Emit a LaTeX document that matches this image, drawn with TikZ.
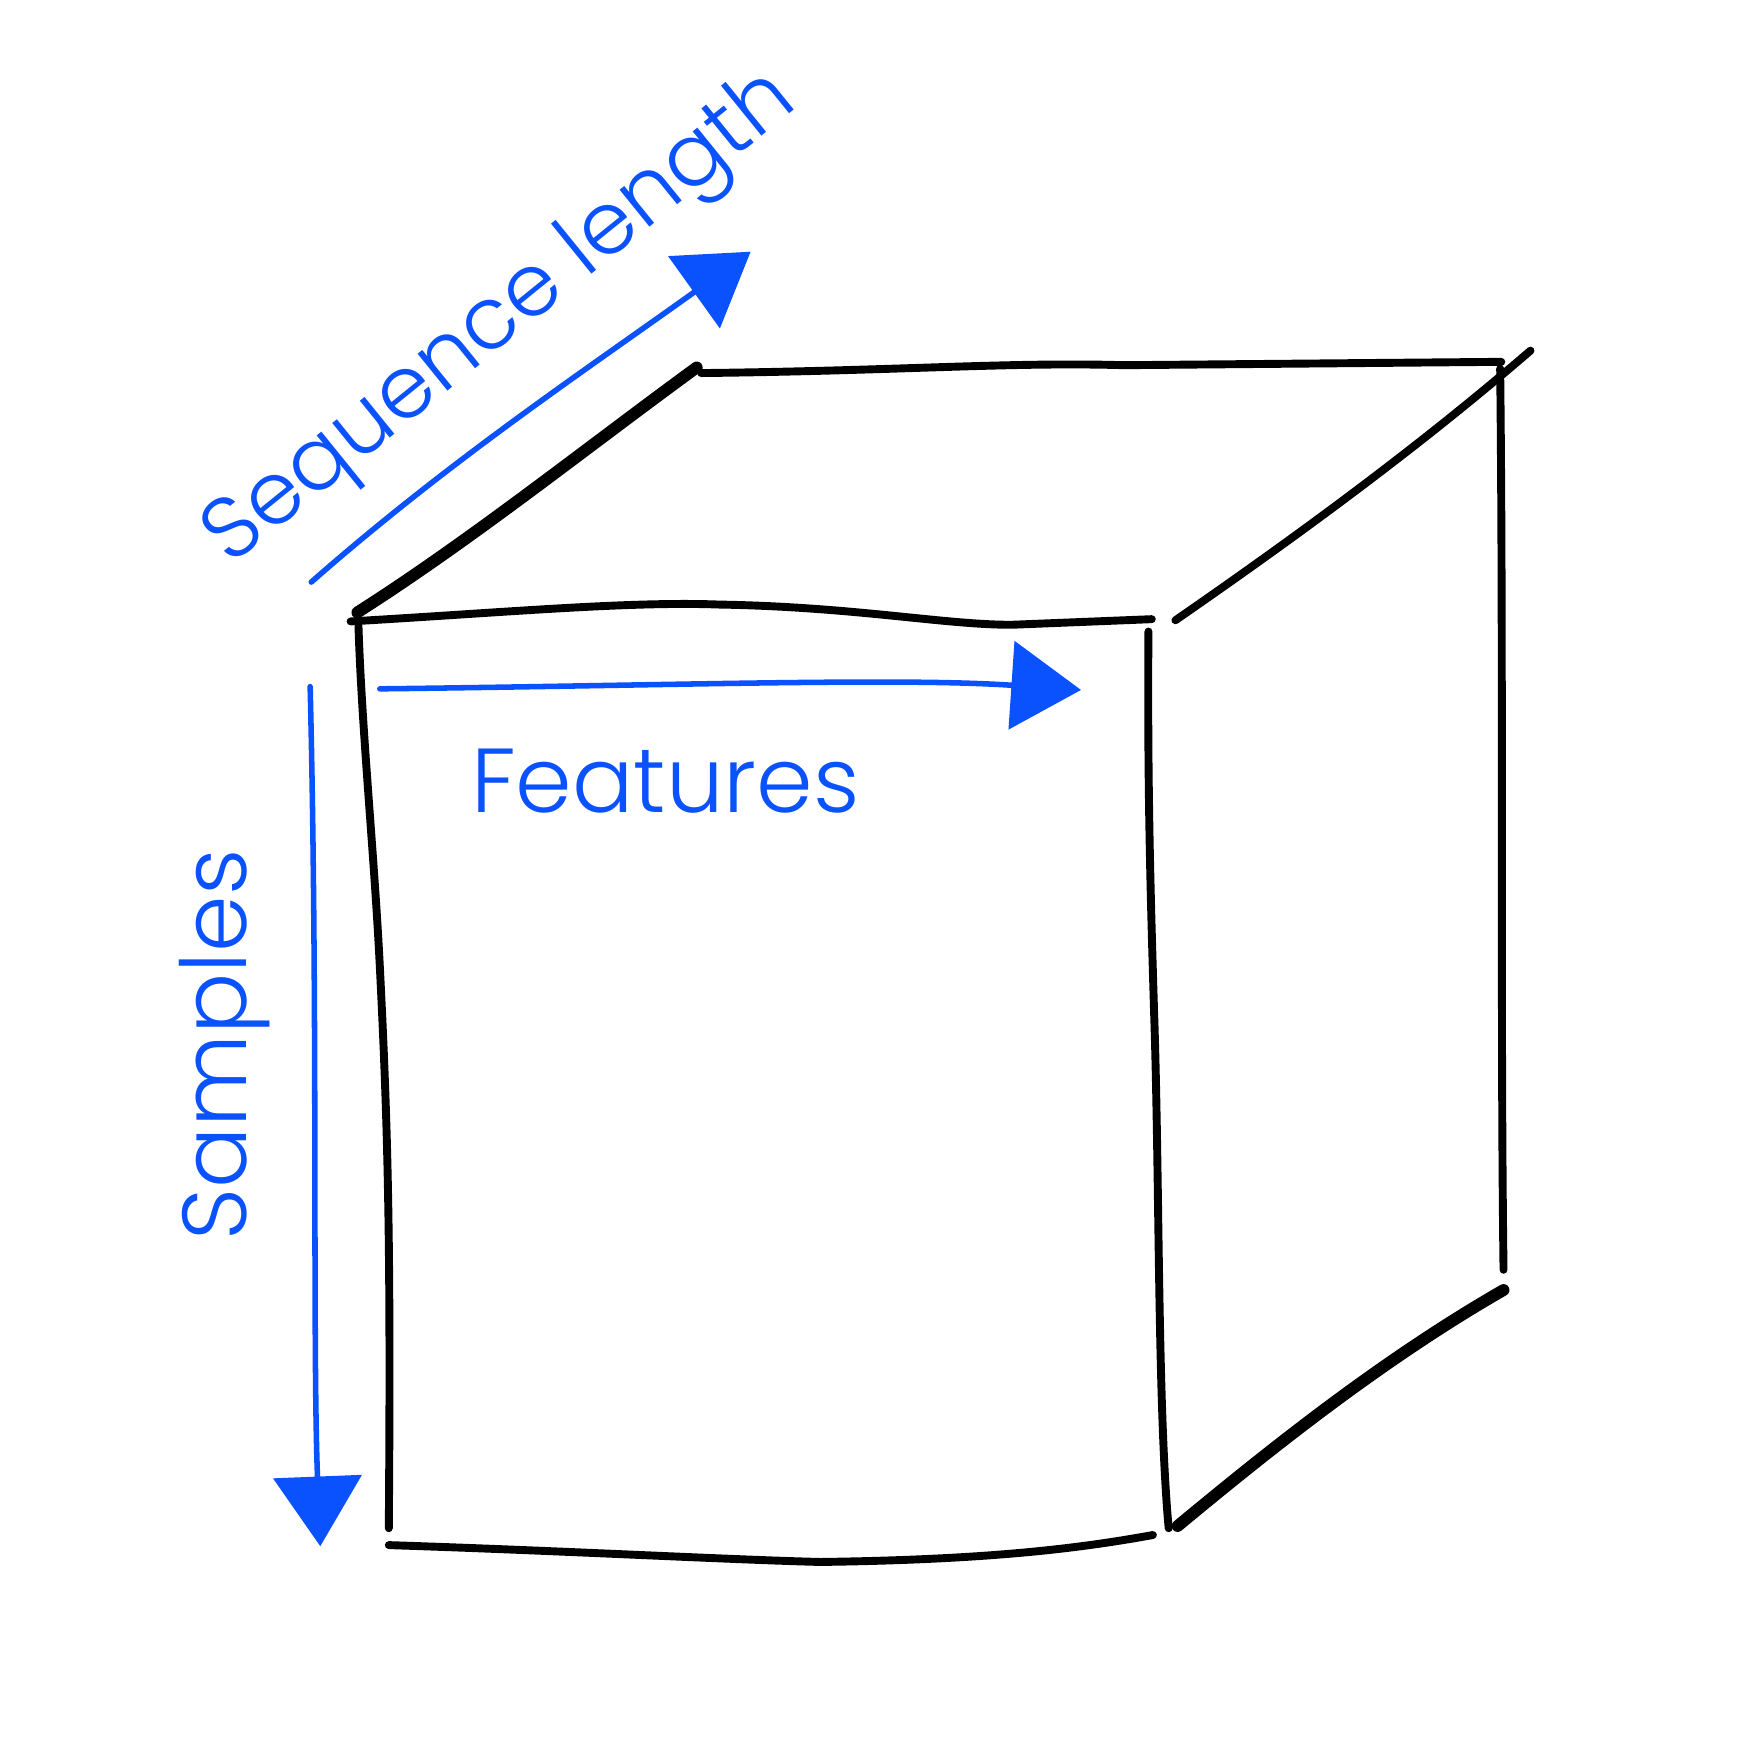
\documentclass[tikz,border=0pt]{standalone}
\usepackage{fontspec}
\usepackage{xcolor}
\newfontfamily\handfont{Poppins}[UprightFont=* Light]
\definecolor{penblue}{HTML}{0B52FF}
\usetikzlibrary{positioning, arrows.meta, calc}

\begin{document}
\begin{tikzpicture}[
						x=0.01cm, y=-0.01cm,
						edge/.style={draw, black, line width=2pt, line cap=round, line join=round},
						heavyedge/.style={edge, line width=3pt},
						axis/.style={draw, penblue, line width=1.4pt, line cap=round, -{Triangle[length=0.62cm, width=0.78cm]}},
						axislabel/.style={text=penblue, font=\handfont\fontsize{23}{28}\selectfont, inner sep=0pt}
						]
						\useasboundingbox (0,0) rectangle (1568,1564);
						
						% corners of the box
						\coordinate (ftl) at (312,553);
						\coordinate (ftr) at (1025,551);
						\coordinate (fbl) at (346,1375);
						\coordinate (fbr) at (1026,1366);
						\coordinate (btl) at (624,332);
						\coordinate (btr) at (1336,322);
						\coordinate (bbr) at (1338,1130);
						
						% front face
						\draw [edge] (ftl) .. controls (450,545) and (560,535) .. (640,538) .. controls (760,540) and (840,556) .. (900,556) -- (ftr);
						\draw [edge] (319,557) .. controls (322,650) and (333,760) .. (338,860) .. controls (345,1000) and (348,1100) .. (346,1360);
						\draw [edge] (1022,562) .. controls (1021,700) and (1024,800) .. (1027,900) .. controls (1032,1050) and (1030,1250) .. (1040,1360);
						\draw [edge] (fbl) .. controls (500,1380) and (650,1388) .. (730,1390) .. controls (880,1388) and (960,1378) .. (fbr);
						
						% back edges
						\draw [edge] (btl) .. controls (800,330) and (900,322) .. (1000,325) -- (btr);
						\draw [edge] (1335,328) .. controls (1338,600) and (1335,900) .. (bbr);
						\draw [heavyedge] (318,545) .. controls (420,480) and (520,400) .. (620,327);
						\draw [edge] (1046,552) .. controls (1150,480) and (1260,400) .. (1362,312);
						\draw [heavyedge] (1048,1358) .. controls (1130,1290) and (1230,1210) .. (1338,1148);
						
						% dimension arrows
						\coordinate (seq_start) at (277,518);
						\coordinate (seq_end) at (668,224);
						\coordinate (feat_start) at (338,613);
						\coordinate (feat_end) at (962,614);
						\coordinate (samp_start) at (276,611);
						\coordinate (samp_end) at (285,1376);
						
						\draw [axis] (seq_start) .. controls (400,410) and (520,330) .. (seq_end);
						\draw [axis] (feat_start) .. controls (600,610) and (800,603) .. (feat_end);
						\draw [axis] (samp_start) .. controls (283,900) and (278,1200) .. (samp_end);
						
						\node [axislabel, rotate=39, font=\handfont\fontsize{22}{26}\selectfont] (seq_label) at (447,285) {Sequence length};
						\node [axislabel] (feat_label) at (592,695) {Features};
						\node [axislabel, rotate=90] (samp_label) at (200,930) {Samples};
					\end{tikzpicture}
\end{document}
